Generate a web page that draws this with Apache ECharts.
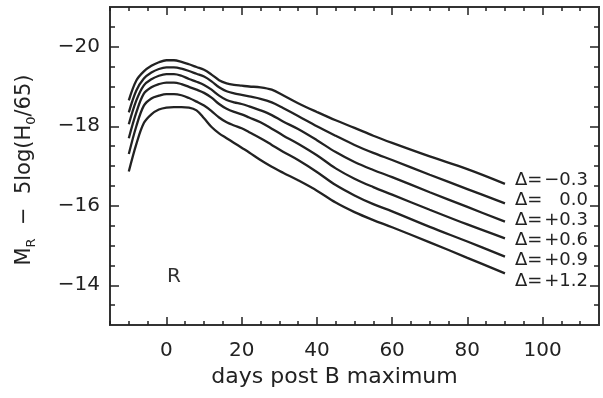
<!DOCTYPE html>
<html>
<head>
<meta charset="utf-8">
<script src="https://cdn.jsdelivr.net/npm/echarts@6/dist/echarts.min.js"></script>
<style>
  html, body { margin: 0; padding: 0; background: #fff; }
  #chart { width: 603px; height: 398px; }
</style>
</head>
<body>
<div id="chart"></div>
<script>
// Days relative to B-band maximum
const days = [-10, -8, -6, -4, -2, 0, 2, 4, 6, 8, 10, 12, 14, 16, 18, 20, 22, 25, 28, 31, 35, 40, 45, 50, 55, 60, 70, 80, 90];

// R-band absolute magnitude templates, one per Delta value
const magDeltaM03 = [-18.65, -19.15, -19.38, -19.52, -19.61, -19.66, -19.66, -19.62, -19.56, -19.49, -19.42, -19.30, -19.16, -19.08, -19.04, -19.02, -19.00, -18.98, -18.92, -18.78, -18.58, -18.36, -18.15, -17.96, -17.76, -17.58, -17.24, -16.92, -16.55];
const magDelta00  = [-18.35, -18.90, -19.20, -19.35, -19.44, -19.48, -19.48, -19.45, -19.39, -19.32, -19.25, -19.13, -18.98, -18.88, -18.83, -18.79, -18.75, -18.69, -18.60, -18.46, -18.26, -18.00, -17.76, -17.53, -17.33, -17.15, -16.78, -16.42, -16.06];
const magDeltaP03 = [-18.05, -18.65, -19.03, -19.18, -19.27, -19.31, -19.31, -19.27, -19.19, -19.12, -19.04, -18.92, -18.77, -18.66, -18.60, -18.56, -18.50, -18.40, -18.28, -18.12, -17.93, -17.65, -17.35, -17.10, -16.90, -16.72, -16.34, -15.97, -15.60];
const magDeltaP06 = [-17.70, -18.35, -18.82, -18.98, -19.06, -19.10, -19.10, -19.06, -18.99, -18.92, -18.84, -18.72, -18.56, -18.44, -18.36, -18.30, -18.22, -18.10, -17.94, -17.77, -17.56, -17.27, -16.94, -16.68, -16.47, -16.28, -15.90, -15.53, -15.18];
const magDeltaP09 = [-17.30, -18.00, -18.52, -18.70, -18.77, -18.81, -18.81, -18.78, -18.71, -18.62, -18.52, -18.38, -18.22, -18.10, -18.02, -17.95, -17.85, -17.70, -17.53, -17.36, -17.15, -16.85, -16.52, -16.26, -16.04, -15.86, -15.47, -15.10, -14.72];
const magDeltaP12 = [-16.86, -17.55, -18.08, -18.30, -18.42, -18.47, -18.48, -18.48, -18.47, -18.40, -18.20, -17.98, -17.82, -17.70, -17.58, -17.46, -17.34, -17.15, -16.98, -16.83, -16.64, -16.38, -16.08, -15.84, -15.64, -15.46, -15.08, -14.69, -14.30];

const deltaLabels = ['\u22120.3', '0.0', '+0.3', '+0.6', '+0.9', '+1.2'];
const curves = [magDeltaM03, magDelta00, magDeltaP03, magDeltaP06, magDeltaP09, magDeltaP12];

// Tick positions
const xMajor = [0, 20, 40, 60, 80, 100];
const xMinor = [-15, -10, -5, 5, 10, 15, 25, 30, 35, 45, 50, 55, 65, 70, 75, 85, 90, 95, 105, 110];
const yMajor = [-20, -18, -16, -14];
const yMinor = [-20.5, -19.5, -19, -18.5, -17.5, -17, -16.5, -15.5, -15, -14.5, -13.5];

const FONT = 'DejaVu Sans';
const INK = '#222';

const chart = echarts.init(document.getElementById('chart'), null, { renderer: 'canvas' });

function xAxisDef(pos, ticks, len, withLabels) {
  return {
    type: 'value', min: -15, max: 115, position: pos,
    axisLine: { show: false, onZero: false }, splitLine: { show: false },
    axisTick: { show: true, inside: true, length: len, customValues: ticks, lineStyle: { color: INK, width: 1.5 } },
    axisLabel: withLabels ? {
      show: true, customValues: ticks, margin: 16,
      fontFamily: FONT, fontSize: 20, color: INK
    } : { show: false }
  };
}
function yAxisDef(pos, ticks, len, withLabels) {
  return {
    type: 'value', min: -21, max: -13, inverse: true, position: pos,
    axisLine: { show: false, onZero: false }, splitLine: { show: false },
    axisTick: { show: true, inside: true, length: len, customValues: ticks, lineStyle: { color: INK, width: 1.5 } },
    axisLabel: withLabels ? {
      show: true, customValues: ticks, margin: 10,
      fontFamily: FONT, fontSize: 20, color: INK,
      formatter: v => (v < 0 ? '\u2212' : '') + Math.abs(v)
    } : { show: false }
  };
}

const xAxes = [
  xAxisDef('bottom', xMajor, 8, true),
  xAxisDef('bottom', xMinor, 4, false),
  xAxisDef('top', xMajor, 8, false),
  xAxisDef('top', xMinor, 4, false)
];
Object.assign(xAxes[0], {
  name: 'days post B maximum', nameLocation: 'middle', nameGap: 41,
  nameTextStyle: { fontFamily: FONT, fontSize: 22, color: INK, padding: [0, 40, 0, 0] }
});

const yAxes = [
  yAxisDef('left', yMajor, 9, true),
  yAxisDef('left', yMinor, 5, false),
  yAxisDef('right', yMajor, 9, false),
  yAxisDef('right', yMinor, 5, false)
];
Object.assign(yAxes[0], {
  name: '{a|M}{s|R}{a|  \u2212  5log(H}{s|0}{a|/65)}',
  nameLocation: 'middle', nameRotate: 90, nameGap: 72,
  nameTextStyle: {
    color: INK,
    padding: [0, 8, 0, 0],
    rich: {
      a: { fontFamily: FONT, fontSize: 21, lineHeight: 27, color: INK },
      s: { fontFamily: FONT, fontSize: 13, lineHeight: 13, verticalAlign: 'bottom', color: INK }
    }
  }
});

const series = curves.map(arr => ({
  type: 'line',
  xAxisIndex: 0, yAxisIndex: 0,
  data: days.map((d, i) => [d, arr[i]]),
  smooth: 0.35,
  showSymbol: false,
  lineStyle: { color: INK, width: 2.3 },
  silent: true
}));

const labelItems = [];
deltaLabels.forEach((t, i) => {
  const cy = 180 + i * 20.2;
  labelItems.push({
    type: 'text', x: 515, y: cy,
    style: { text: '\u0394=', font: '18px "DejaVu Sans"', fill: INK, textAlign: 'left', textVerticalAlign: 'middle' }
  });
  labelItems.push({
    type: 'text', x: 588, y: cy,
    style: { text: t, font: '18px "DejaVu Sans"', fill: INK, textAlign: 'right', textVerticalAlign: 'middle' }
  });
});
labelItems.push({
  type: 'text', x: 174, y: 277,
  style: { text: 'R', font: '20px "DejaVu Sans"', fill: '#333', textAlign: 'center', textVerticalAlign: 'middle' }
});

chart.setOption({
  animation: false,
  backgroundColor: '#fff',
  grid: {
    left: 110, right: 4, top: 7, bottom: 73,
    show: true, borderColor: '#333', borderWidth: 2, backgroundColor: 'transparent',
    containLabel: false, outerBoundsMode: 'none'
  },
  xAxis: xAxes,
  yAxis: yAxes,
  series: series,
  graphic: labelItems
});
</script>
</body>
</html>
